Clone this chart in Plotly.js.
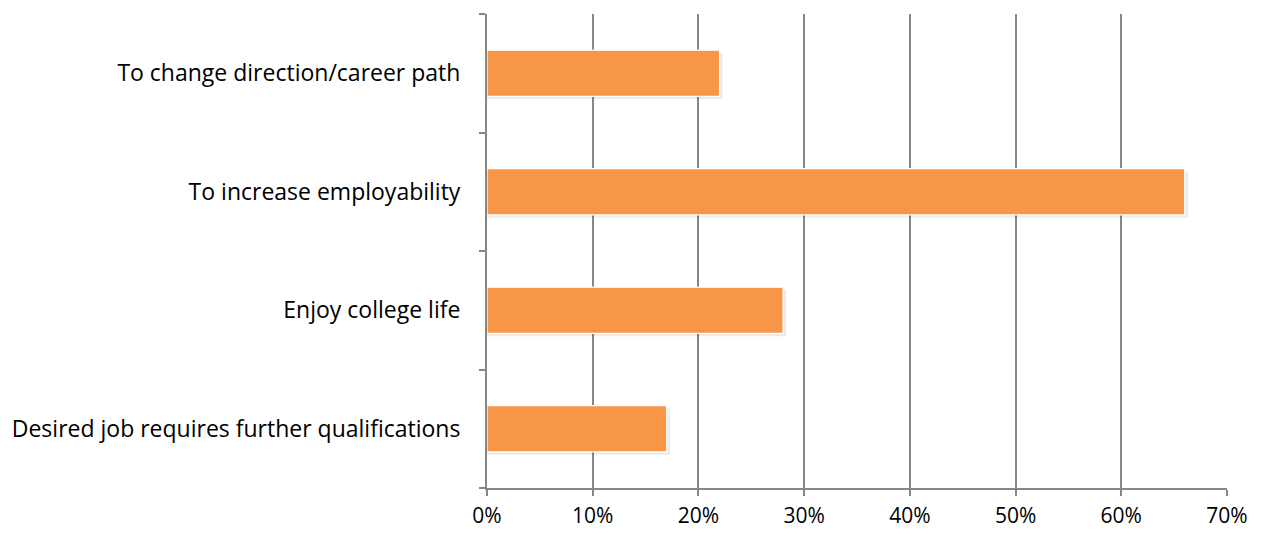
<!DOCTYPE html>
<html>
<head>
<meta charset="utf-8">
<script src="https://cdn.plot.ly/plotly-3.0.1.min.js"></script>
<style>html,body{margin:0;padding:0;background:#fff;}#chart{width:1266px;height:533px;}</style>
</head>
<body>
<div id="chart"></div>
<script>
const categories = [
  "Desired job requires further qualifications",
  "Enjoy college life",
  "To increase employability",
  "To change direction/career path"
];
const values = [17, 28, 66, 22];
const tickValues = [0, 10, 20, 30, 40, 50, 60, 70];
const tickLabels = ["0%", "10%", "20%", "30%", "40%", "50%", "60%", "70%"];

const barWidth = 0.39;
const shadow = {
  type: "bar", orientation: "h",
  y: categories, x: values.map(v => v + 0.3),
  width: barWidth, offset: -barWidth / 2 - 0.025,
  marker: {color: "rgba(0,0,0,0.08)", line: {width: 0}},
  hoverinfo: "skip", showlegend: false
};
const bars = {
  type: "bar", orientation: "h",
  y: categories, x: values,
  width: barWidth,
  marker: {color: "#F79646", line: {color: "#FFFFFF", width: 1.2}},
  showlegend: false
};

const layout = {
  width: 1266, height: 533,
  margin: {l: 487, r: 39, t: 14, b: 45, pad: 0},
  paper_bgcolor: "#fff", plot_bgcolor: "#fff",
  barmode: "overlay",
  font: {family: "'Open Sans', 'Noto Sans', sans-serif", size: 23, color: "#000"},
  xaxis: {
    range: [0, 70], tickvals: tickValues, ticktext: tickLabels,
    tickfont: {size: 21},
    showgrid: true, gridcolor: "#868686", gridwidth: 2,
    zeroline: false, showline: true, linecolor: "#868686", linewidth: 2,
    ticks: "outside", ticklen: 6, tickcolor: "#868686", tickwidth: 2,
    ticklabelstandoff: 2, fixedrange: true
  },
  yaxis: {
    type: "category", categoryorder: "array", categoryarray: categories,
    range: [-0.5, 3.5],
    showgrid: false, zeroline: false,
    showline: true, linecolor: "#868686", linewidth: 2,
    ticks: "outside", tickson: "boundaries", ticklen: 6, tickcolor: "#868686", tickwidth: 2,
    ticklabelstandoff: 20, fixedrange: true
  }
};

Plotly.newPlot("chart", [shadow, bars], layout, {displayModeBar: false, staticPlot: true});
</script>
</body>
</html>
